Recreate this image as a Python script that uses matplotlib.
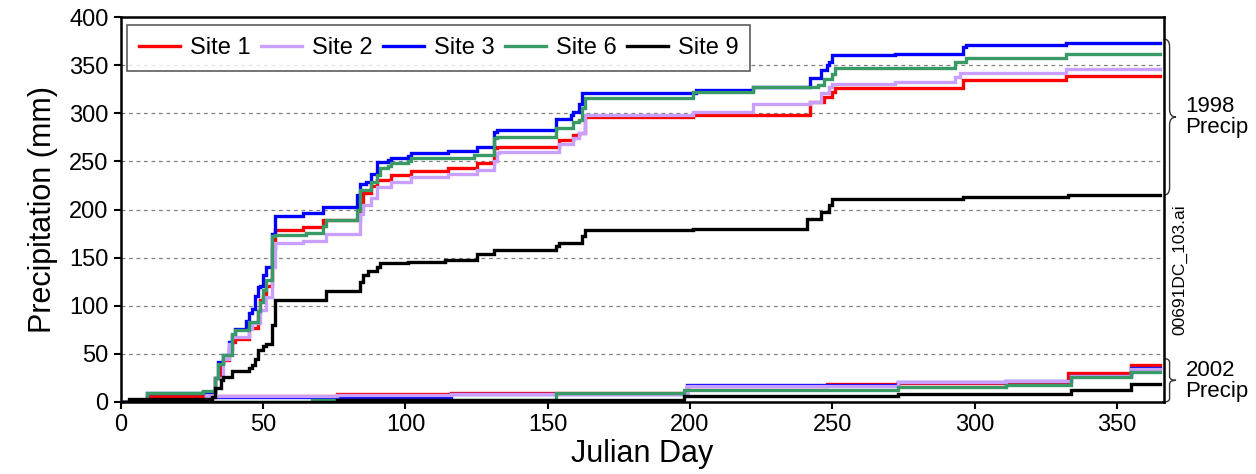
"""
Cumulative precipitation by Julian day for five sites, 1998 and 2002.
"""

import matplotlib
matplotlib.use("Agg")
import matplotlib.pyplot as plt
from matplotlib.path import Path
from matplotlib.patches import PathPatch
from matplotlib.transforms import blended_transform_factory

plt.rcParams['font.family'] = ['Liberation Sans', 'DejaVu Sans']

# ---- 1998 cumulative totals (mm), step events as (day, total after day) ----
site1_98_days = [0, 9, 29, 33, 35, 36, 38, 39, 40, 45, 48, 49, 50, 51, 53, 54, 64, 71,
                 84, 85, 88, 90, 95, 102, 115, 125, 131, 132, 154, 159, 161, 163, 201,
                 242, 247, 250, 251, 296, 332, 365]
site1_98_mm = [0, 6, 10, 25, 40.5, 43.6, 55, 62.7, 65, 76.5, 95, 106, 109.5, 120.5, 160, 179, 182, 189,
               205, 216.8, 224, 230.6, 235.8, 240.3, 242.8, 248, 263.6, 265, 272, 277, 280, 295.8, 298,
               312, 317, 322, 326, 334.5, 339, 339]

site2_98_days = [0, 27, 30, 33, 36, 38, 39, 45, 46, 49, 51, 53, 54, 64, 72,
                 84, 85, 88, 90, 95, 102, 115, 125, 131, 132, 133, 154, 159, 161, 163, 201,
                 222, 242, 246, 249, 250, 272, 293, 295, 332, 365]
site2_98_mm = [0, 0, 6, 25, 45, 60, 67.8, 76, 82, 95.6, 109, 140, 165, 167.6, 175,
               195, 204.7, 212, 223.7, 229, 234, 237, 241, 250, 258.4, 260, 268, 274, 280, 298, 301.6,
               309.6, 312, 320.7, 327, 330.4, 332.8, 338, 341.5, 346, 346]

site3_98_days = [0, 4, 9, 29, 33, 34, 36, 38, 39, 40, 44, 45, 46, 47, 48, 49, 50, 51, 53, 54, 64, 71,
                 83, 84, 86, 88, 90, 94, 95, 101, 102, 115, 125, 131, 132, 153, 158, 159, 161, 162,
                 202, 222, 242, 246, 248, 249, 250, 272, 296, 297, 332, 365]
site3_98_mm = [0, 2, 9, 10.7, 25, 42, 49, 62, 70, 75.5, 84, 92, 97, 110, 119, 120.6, 132, 140.6, 175, 193, 196, 203,
               215, 227, 229, 237, 249.6, 251, 253, 255.6, 258.8, 261, 264.6, 281, 283, 293.7, 298, 301.6, 310, 321,
               324, 327.6, 337, 345, 350, 353.6, 360.5, 361.6, 369, 370.5, 373, 373]

site6_98_days = [0, 4, 9, 29, 33, 34, 36, 39, 40, 45, 48, 49, 50, 51, 53, 54, 65, 71, 72,
                 83, 84, 88, 90, 91, 94, 95, 101, 102, 124, 131, 132, 153, 159, 161, 162, 163,
                 201, 222, 245, 247, 250, 251, 293, 297, 332, 365]
site6_98_mm = [0, 2, 9, 11, 25, 40, 49, 71, 75, 83.4, 95, 104, 116, 126.8, 172.5, 174, 176, 183, 189,
               200, 220, 229, 236, 242.8, 245, 248, 250, 253, 256.6, 274, 275, 285, 291, 293.5, 305, 315.5,
               322, 327, 329, 336, 341, 346.6, 353, 357, 361.6, 362]

site9_98_days = [0, 3, 32, 33, 35, 36, 39, 45, 46, 47, 48, 50, 51, 53, 54, 72,
                 84, 85, 87, 90, 91, 101, 114, 125, 131, 153, 154, 162, 163, 201,
                 241, 246, 249, 250, 296, 333, 365]
site9_98_mm = [0, 2.8, 5, 15, 22.9, 26.3, 32.6, 35, 38.4, 45, 54, 58, 60.3, 80, 106, 115.6,
               125, 132, 136.4, 140, 144, 145.5, 147.3, 153.8, 158, 162, 165.5, 172, 178.7, 179.6,
               189.8, 197.7, 205, 210.6, 213.3, 215, 215]

# ---- 2002 cumulative totals (mm) ----
site1_02_days = [0, 28, 31, 76, 116, 199, 248, 273, 311, 333, 355, 365]
site1_02_mm = [0, 0, 6, 8, 9, 16.5, 18.7, 20, 21, 30, 38.4, 38.4]

site2_02_days = [0, 27, 30, 76, 116, 199, 273, 311, 334, 355, 365]
site2_02_mm = [0, 0, 6, 7, 8, 17, 20.5, 21.5, 27, 34, 34]

site3_02_days = [0, 31, 116, 199, 273, 311, 334, 355, 365]
site3_02_mm = [0, 5.5, 8, 17.3, 21, 22, 27.5, 35.6, 35.6]

site6_02_days = [0, 67, 153, 198, 273, 311, 334, 355, 365]
site6_02_mm = [0, 2.5, 9.7, 12.5, 16, 18, 25.6, 31.5, 31.5]

site9_02_days = [0, 76, 198, 273, 334, 355, 365]
site9_02_mm = [0, 2, 6.6, 8.3, 12.5, 18.7, 18.7]

site_names = ["Site 1", "Site 2", "Site 3", "Site 6", "Site 9"]
site_colors = ["#ff0000", "#c9a0ff", "#0000ff", "#3a9a66", "#000000"]

series_98 = [(site1_98_days, site1_98_mm), (site2_98_days, site2_98_mm),
             (site3_98_days, site3_98_mm), (site6_98_days, site6_98_mm),
             (site9_98_days, site9_98_mm)]
series_02 = [(site1_02_days, site1_02_mm), (site2_02_days, site2_02_mm),
             (site3_02_days, site3_02_mm), (site6_02_days, site6_02_mm),
             (site9_02_days, site9_02_mm)]

fig = plt.figure(figsize=(12.56, 4.74), dpi=100)
ax = fig.add_axes([0.0963, 0.1519, 0.8305, 0.8122])

# draw order: red, blue, lavender, green, black
order = [0, 2, 1, 3, 4]
handles = {}
for i in order:
    for days, mm in (series_02[i], series_98[i]):
        ln, = ax.plot(days, mm, drawstyle='steps-post', color=site_colors[i],
                      linewidth=2.4, solid_joinstyle='miter')
    handles[i] = ln

ax.set_xlim(0, 366.6)
ax.set_ylim(0, 400)
ax.set_xticks(range(0, 351, 50))
ax.set_yticks(range(0, 401, 50))
for y in range(50, 351, 50):
    ax.axhline(y, color='#808080', linewidth=0.9, linestyle=(0, (3, 3)), zorder=0)

for s in ax.spines.values():
    s.set_linewidth(1.8)
ax.tick_params(direction='out', length=5, width=1.5, labelsize=17, pad=4)

ax.set_xlabel("Julian Day", fontsize=22, labelpad=2)
ax.set_ylabel("Precipitation (mm)", fontsize=22, labelpad=8)

leg = ax.legend([handles[i] for i in range(5)], site_names, loc='upper left',
                bbox_to_anchor=(0.0058, 0.979), borderaxespad=0, ncol=5,
                fontsize=17, frameon=True, fancybox=False, handlelength=1.75,
                handletextpad=0.4, columnspacing=0.45, borderpad=0.5)
leg.get_frame().set_edgecolor('#333333')
leg.get_frame().set_linewidth(1.2)


def brace(ax, y0, y1, r):
    # curly brace to the right of the axes, spanning y0..y1 in data units
    tr = blended_transform_factory(ax.transAxes, ax.transData)
    xa, xb, xc = 1.0, 1.0053, 1.0115
    ym = (y0 + y1) / 2
    verts = [(xa, y1), (xb, y1), (xb, y1 - r),
             (xb, ym + r),
             (xb, ym), (xc, ym), (xb, ym),
             (xb, ym - r),
             (xb, y0 + r), (xb, y0), (xa, y0)]
    codes = [Path.MOVETO, Path.CURVE3, Path.CURVE3,
             Path.LINETO,
             Path.CURVE3, Path.CURVE3, Path.CURVE3,
             Path.LINETO,
             Path.LINETO, Path.CURVE3, Path.CURVE3]
    p = PathPatch(Path(verts, codes), transform=tr, fill=False,
                  edgecolor='#333333', linewidth=1.0, clip_on=False)
    ax.add_patch(p)


brace(ax, 215, 377, 8)
brace(ax, 0, 45, 4)

tr = blended_transform_factory(ax.transAxes, ax.transData)
ax.text(1.0205, 296, "1998\nPrecip", transform=tr, fontsize=16, ha='left',
        va='center', linespacing=1.0, clip_on=False)
ax.text(1.0205, 22, "2002\nPrecip", transform=tr, fontsize=16, ha='left',
        va='center', linespacing=1.0, clip_on=False)
ax.text(1.0153, 137, "00691DC_103.ai", transform=tr, fontsize=12.5, rotation=90,
        ha='center', va='center', clip_on=False)

fig.savefig("out.png", dpi=100)
